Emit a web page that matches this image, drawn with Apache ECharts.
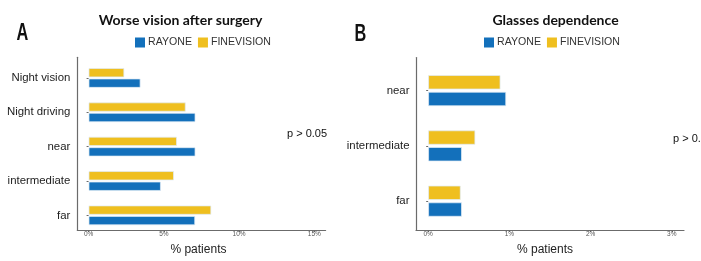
<!DOCTYPE html>
<html>
<head>
<meta charset="utf-8">
<script src="https://cdn.jsdelivr.net/npm/echarts@6/dist/echarts.min.js"></script>
<style>html,body{margin:0;padding:0;background:#fff}#c{width:701px;height:261px}</style>
</head>
<body>
<div id="c"></div>
<script>
// ---- data ----
var catsA = ['Night vision', 'Night driving', 'near', 'intermediate', 'far'];
var rayoneA = [3.45, 7.1, 7.1, 4.8, 7.08];
var fineA = [2.37, 6.45, 5.87, 5.67, 8.15];
var ticksA = [0, 5, 10, 15];

var catsB = ['near', 'intermediate', 'far'];
var rayoneB = [0.96, 0.415, 0.415];
var fineB = [0.89, 0.58, 0.40];
var ticksB = [0, 1, 2, 3];

var seriesNames = ['RAYONE', 'FINEVISION'];
var titleA = 'Worse vision after surgery';
var titleB = 'Glasses dependence';
var pText = 'p > 0.05';
var xName = '% patients';

// ---- styles ----
var BLUE = '#1370bb', YELLOW = '#efbf1f';
var AXIS = '#6b6b6b';
var FONT = '"Liberation Sans", Arial, sans-serif';

var chart = echarts.init(document.getElementById('c'), null, {renderer: 'canvas'});

function lineAxisX(gi, min, max, ticks, namePad) {
  return {
    type: 'value', gridIndex: gi, min: min, max: max,
    axisLine: {show: true, onZero: false, lineStyle: {color: AXIS, width: 1.2}},
    axisTick: {show: true, length: 2, customValues: ticks, lineStyle: {color: AXIS}},
    axisLabel: {show: true, customValues: ticks, margin: 1, fontSize: 6.5, color: '#555', fontFamily: FONT,
      formatter: function (v) { return v + '%'; }},
    splitLine: {show: false},
    name: xName, nameLocation: 'middle', nameGap: 14,
    nameTextStyle: {fontSize: 12, color: '#222', fontFamily: FONT, padding: namePad}
  };
}
function hiddenX(gi, min, max) {
  return {type: 'value', gridIndex: gi, min: min, max: max, show: false, splitLine: {show: false}};
}
function lineAxisY(gi) {
  return {type: 'value', gridIndex: gi, min: 0, max: 1,
    axisLine: {show: true, onZero: false, lineStyle: {color: AXIS, width: 1.2}},
    axisTick: {show: false}, axisLabel: {show: false}, splitLine: {show: false}};
}
function catAxisY(gi, cats, margin) {
  return {type: 'category', gridIndex: gi, data: cats, inverse: true,
    axisLine: {show: false},
    axisTick: {show: true, alignWithLabel: true, length: 2, lineStyle: {color: AXIS}},
    axisLabel: {margin: margin, fontSize: 11.4, color: '#222', fontFamily: FONT},
    splitLine: {show: false}};
}
function barSeries(name, color, xi, yi, data, w, gap) {
  return {type: 'bar', name: name, xAxisIndex: xi, yAxisIndex: yi, data: data,
    barWidth: w, barGap: gap, itemStyle: {color: color, borderColor: 'rgba(225,235,245,0.9)', borderWidth: 0.8},
    emphasis: {disabled: true}, silent: true};
}
function legend(left) {
  return {left: left, top: 37, padding: 0, itemWidth: 10, itemHeight: 10, itemGap: 6, icon: 'rect',
    data: [seriesNames[0], seriesNames[1]], selectedMode: false,
    itemStyle: {borderWidth: 0},
    textStyle: {fontSize: 10.6, color: '#333', fontFamily: FONT, padding: [0, 0, 0, -2]}};
}
function txt(x, y, s, font, align, sx) {
  return {type: 'text', x: x, y: y, scaleX: sx || 1, silent: true,
    style: {text: s, x: 0, y: 0, font: font, fill: '#111', textAlign: align, textVerticalAlign: 'middle'}};
}

var option = {
  animation: false,
  backgroundColor: '#fff',
  color: [YELLOW, BLUE],
  grid: [
    {left: 77.3, width: 248.3, top: 60.74, height: 171.8, containLabel: false},
    {left: 77.3, width: 248.3, top: 57.3, height: 178.7, containLabel: false},
    {left: 416, width: 268, top: 63.0, height: 165.8, containLabel: false},
    {left: 416, width: 268, top: 57.5, height: 176.8, containLabel: false}
  ],
  xAxis: [
    hiddenX(0, -0.75, 15.75),
    lineAxisX(1, -0.75, 15.75, ticksA, [0, 6, 0, 0]),
    hiddenX(2, -0.15, 3.15),
    lineAxisX(3, -0.15, 3.15, ticksB, [0, 10, 0, 0])
  ],
  yAxis: [
    catAxisY(0, catsA, 7),
    lineAxisY(1),
    catAxisY(2, catsB, 6.5),
    lineAxisY(3)
  ],
  legend: [legend(135), legend(484)],
  series: [
    barSeries(seriesNames[1], YELLOW, 0, 0, fineA, 9.2, '14%'),
    barSeries(seriesNames[0], BLUE, 0, 0, rayoneA, 9.2, '14%'),
    barSeries(seriesNames[1], YELLOW, 2, 2, fineB, 14.3, '17%'),
    barSeries(seriesNames[0], BLUE, 2, 2, rayoneB, 14.3, '17%')
  ],
  graphic: [
    txt(180.5, 20, titleA, 'bold 14px Lato, "Open Sans", sans-serif', 'center'),
    txt(555.5, 20, titleB, 'bold 14px Lato, "Open Sans", sans-serif', 'center'),
    txt(22.5, 33.5, 'A', 'bold 24px "Liberation Sans", Arial, sans-serif', 'center', 0.68),
    txt(360.5, 34, 'B', 'bold 24px "Liberation Sans", Arial, sans-serif', 'center', 0.68),
    txt(287, 134, pText, '11px "Liberation Sans", Arial, sans-serif', 'left'),
    txt(673, 139, pText, '11px "Liberation Sans", Arial, sans-serif', 'left')
  ]
};
chart.setOption(option);
</script>
</body>
</html>
